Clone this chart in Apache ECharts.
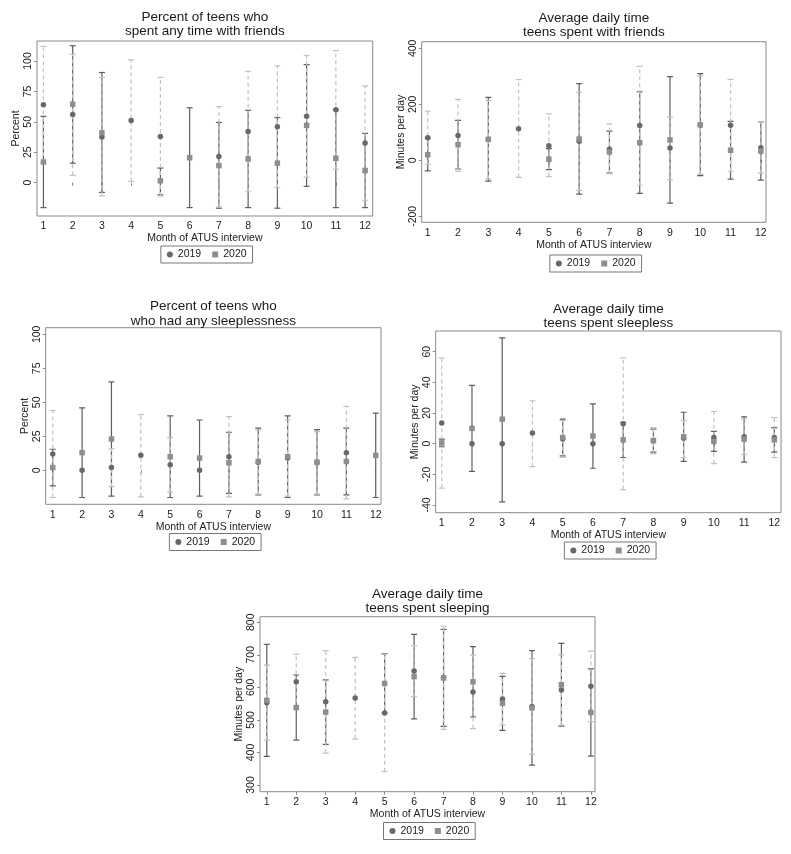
<!DOCTYPE html>
<html><head><meta charset="utf-8">
<script src="https://cdn.jsdelivr.net/npm/echarts@6/dist/echarts.min.js"></script>
<style>html,body{margin:0;padding:0;background:#fff}#c{width:791px;height:854px}</style>
</head><body><div id="c"></div>
<script>
// ---------- DATA ----------
const months = [1,2,3,4,5,6,7,8,9,10,11,12];
const seriesNames = ['2019','2020'];

const titles = [
  ['Percent of teens who','spent any time with friends'],
  ['Average daily time','teens spent with friends'],
  ['Percent of teens who','who had any sleeplessness'],
  ['Average daily time','teens spent sleepless'],
  ['Average daily time','teens spent sleeping']
];
const yAxisTitles = ['Percent','Minutes per day','Percent','Minutes per day','Minutes per day'];
const xAxisTitle = 'Month of ATUS interview';

const pctTicks = [0,25,50,75,100];
const friendsMinTicks = [-200,0,200,400];
const sleeplessMinTicks = [-40,-20,0,20,40,60];
const sleepMinTicks = [300,400,500,600,700,800];

// Panel 1: percent with friends
const friendsPct2019 = [64, 56, 37.5, 51, 38, null, 21.5, 42, 46, 54.5, 60, 32.5];
const friendsPct2019Lo = [16, 6, -11, 1, -11, null, -20, -7.5, -4, 4.5, 11, -14.5];
const friendsPct2019Hi = [112, 105.5, 86.5, 101, 86.5, null, 62.5, 91.5, 96, 104.5, 108.5, 79.5];
const friendsPct2020 = [17, 64.5, 41, null, 1.5, 20.5, 14, 19.5, 16, 47, 20, 10];
const friendsPct2020Lo = [-20.5, 16, -8, null, -10, -20.5, -21, -20.5, -21, -3, -20.5, -20.5];
const friendsPct2020Hi = [54.5, 112.5, 90.5, null, 12, 61.5, 49.5, 59.5, 53.5, 97, 60, 40.5];

// Panel 2: minutes with friends
const friendsMin2019 = [81, 89, 74, 113, 52, 68, 40, 124, 44, 126, 125, 45];
const friendsMin2019Lo = [-14, -40, -66, -61, -58, -107, -48, -89, -69, -50, -39, -46];
const friendsMin2019Hi = [176, 218, 214, 288, 166, 243, 130, 336, 155, 301, 289, 136];
const friendsMin2020 = [20, 56, 75, null, 4, 76, 30, 63, 73, 127, 36, 33];
const friendsMin2020Lo = [-38, -31, -74, null, -33, -121, -46, -118, -153, -55, -67, -71];
const friendsMin2020Hi = [79, 143, 225, null, 42, 274, 104, 245, 299, 310, 139, 137];

// Panel 3: percent with sleeplessness
const sleeplessPct2019 = [12, 0, 2, 11, 4, 0, 10, 6, 9, 5.5, 13, null];
const sleeplessPct2019Lo = [-20, null, -12, -19.5, -16, null, -19.5, -17.5, -19, -17.5, -21, null];
const sleeplessPct2019Hi = [44, null, 16, 41, 24, null, 39.5, 29.5, 37, 28.5, 47, null];
const sleeplessPct2020 = [2, 13, 23, null, 10, 9, 5.5, 6.5, 10, 6, 6.5, 11];
const sleeplessPct2020Lo = [-11.5, -20, -19, null, -20, -19, -17, -18, -20, -18, -18, -20];
const sleeplessPct2020Hi = [15.5, 46, 65, null, 40, 37, 28, 31, 40, 30, 31, 42];

// Panel 4: minutes sleepless
const sleeplessMin2019 = [13.5, 0, 0, 7, 3, 0, 13, 2, 3.5, 4, 4.5, 4];
const sleeplessMin2019Lo = [-29, null, null, -15, -9, null, -30, -6.5, -9, -13, -7, -9];
const sleeplessMin2019Hi = [56, null, null, 28, 15, null, 56, 10.5, 15, 21, 16, 17];
const sleeplessMin2020 = [0.5, 10, 16, null, 4, 5, 2.5, 2, 4.5, 1.5, 3, 2.5];
const sleeplessMin2020Lo = [-2, -18, -38, null, -8, -16, -9, -5.5, -11.5, -5, -12, -5.5];
const sleeplessMin2020Hi = [3, 38, 69, null, 16, 26, 14, 9.5, 20.5, 8, 17.5, 10.5];

// Panel 5: minutes sleeping
const sleepMin2019 = [553, 617, 556, 567, 521, 650, 630, 586, 564, 541, 592, 603];
const sleepMin2019Lo = [438, 532, 398, 441, 341, 572, 471, 473, 485, 394, 484, 495];
const sleepMin2019Hi = [668, 702, 713, 692, 701, 728, 787, 699, 643, 688, 700, 711];
const sleepMin2020 = [560, 538, 524, null, 612, 633, 629, 617, 551, 537, 608, 523];
const sleepMin2020Lo = [388, 438, 425, null, 521, 503, 480, 509, 468, 361, 481, 389];
const sleepMin2020Hi = [732, 638, 623, null, 703, 763, 778, 725, 634, 713, 735, 657];

const panelData = [
  {ticks: pctTicks, m19: friendsPct2019, lo19: friendsPct2019Lo, hi19: friendsPct2019Hi, m20: friendsPct2020, lo20: friendsPct2020Lo, hi20: friendsPct2020Hi},
  {ticks: friendsMinTicks, m19: friendsMin2019, lo19: friendsMin2019Lo, hi19: friendsMin2019Hi, m20: friendsMin2020, lo20: friendsMin2020Lo, hi20: friendsMin2020Hi},
  {ticks: pctTicks, m19: sleeplessPct2019, lo19: sleeplessPct2019Lo, hi19: sleeplessPct2019Hi, m20: sleeplessPct2020, lo20: sleeplessPct2020Lo, hi20: sleeplessPct2020Hi},
  {ticks: sleeplessMinTicks, m19: sleeplessMin2019, lo19: sleeplessMin2019Lo, hi19: sleeplessMin2019Hi, m20: sleeplessMin2020, lo20: sleeplessMin2020Lo, hi20: sleeplessMin2020Hi},
  {ticks: sleepMinTicks, m19: sleepMin2019, lo19: sleepMin2019Lo, hi19: sleepMin2019Hi, m20: sleepMin2020, lo20: sleepMin2020Lo, hi20: sleepMin2020Hi}
];

// ---------- LAYOUT / STYLE ----------
const layouts = [
  {left:37,    top:41,    width:335.7, height:175,   xMin:0.78, xMax:12.26, yMin:-27.4, yMax:116.4, titleY:17.3,  legendMid:255},
  {left:421.7, top:41.7,  width:344.3, height:180.6, xMin:0.8,  xMax:12.17, yMin:-221.4,yMax:423.8, titleY:18.3,  legendMid:264},
  {left:45.7,  top:327.7, width:335.3, height:176.6, xMin:0.76, xMax:12.18, yMin:-25,   yMax:104.9, titleY:306.7, legendMid:542.5},
  {left:435.7, top:331,   width:345.3, height:181.7, xMin:0.8,  xMax:12.22, yMin:-45,   yMax:73.5,  titleY:309,   legendMid:551},
  {left:260,   top:616.7, width:335,   height:175,   xMin:0.77, xMax:12.14, yMin:279.5, yMax:817,   titleY:594.3, legendMid:831.5}
];
const FONT = '"Liberation Sans", Arial, Helvetica, sans-serif';
const C19 = '#686868', C20 = '#8e8e8e';
const CI19 = '#c2c2c2', CI20 = '#5e5e5e';
const FRAME = '#8a8a8a';

function ciData(lo, hi) {
  const out = [];
  months.forEach((m, i) => { if (lo[i] != null && hi[i] != null) out.push([m, lo[i], hi[i]]); });
  return out;
}
function ptData(v) {
  const out = [];
  months.forEach((m, i) => { if (v[i] != null) out.push([m, v[i]]); });
  return out;
}
function ciRender(color, dashed, width) {
  return function (params, api) {
    const x = api.value(0), lo = api.value(1), hi = api.value(2);
    const a = api.coord([x, lo]), b = api.coord([x, hi]);
    const cap = 3;
    const capStyle = {stroke: color, lineWidth: width};
    return {
      type: 'group',
      children: [
        {type: 'line', shape: {x1: a[0], y1: a[1], x2: b[0], y2: b[1]},
         style: {stroke: color, lineWidth: width, lineDash: dashed ? [4, 3] : null}},
        {type: 'line', shape: {x1: a[0] - cap, y1: a[1], x2: a[0] + cap, y2: a[1]}, style: capStyle},
        {type: 'line', shape: {x1: b[0] - cap, y1: b[1], x2: b[0] + cap, y2: b[1]}, style: capStyle}
      ]
    };
  };
}

const grid = [], xAxis = [], yAxis = [], series = [], legend = [], graphic = [];
layouts.forEach((L, i) => {
  const D = panelData[i];
  const cx = L.left + L.width / 2;
  grid.push({left: L.left, top: L.top, width: L.width, height: L.height, show: true,
    borderColor: FRAME, borderWidth: 1, backgroundColor: '#fff', containLabel: false});
  xAxis.push({
    type: 'value', gridIndex: i, min: L.xMin, max: L.xMax,
    name: xAxisTitle, nameLocation: 'middle', nameGap: 15,
    nameTextStyle: {fontFamily: FONT, fontSize: 10.5, color: '#222'},
    axisLine: {show: false}, splitLine: {show: false},
    axisTick: {show: true, length: 3, customValues: months, lineStyle: {color: FRAME}},
    axisLabel: {customValues: months, margin: 5, fontFamily: FONT, fontSize: 10.5, color: '#222'}
  });
  yAxis.push({
    type: 'value', gridIndex: i, min: L.yMin, max: L.yMax,
    name: yAxisTitles[i], nameLocation: 'middle', nameGap: 15, nameRotate: 90,
    nameTextStyle: {fontFamily: FONT, fontSize: 10.5, color: '#222'},
    axisLine: {show: false}, splitLine: {show: false},
    axisTick: {show: true, length: 3, customValues: D.ticks, lineStyle: {color: FRAME}},
    axisLabel: {customValues: D.ticks, rotate: 90, margin: 3, fontFamily: FONT, fontSize: 10.5, color: '#222'}
  });
  series.push({
    type: 'custom', name: 'CI 2020', xAxisIndex: i, yAxisIndex: i, z: 2, clip: true,
    renderItem: ciRender(CI20, false, 1.2), encode: {x: 0, y: [1, 2]},
    data: ciData(D.lo20, D.hi20), silent: true
  });
  series.push({
    type: 'custom', name: 'CI 2019', xAxisIndex: i, yAxisIndex: i, z: 3, clip: true,
    renderItem: ciRender(CI19, true, 1.2), encode: {x: 0, y: [1, 2]},
    data: ciData(D.lo19, D.hi19), silent: true
  });
  series.push({
    type: 'scatter', name: seriesNames[0], xAxisIndex: i, yAxisIndex: i, z: 4,
    symbol: 'circle', symbolSize: 5.5, itemStyle: {color: C19, opacity: 1},
    data: ptData(D.m19)
  });
  series.push({
    type: 'scatter', name: seriesNames[1], xAxisIndex: i, yAxisIndex: i, z: 5,
    symbol: 'rect', symbolSize: 5.5, itemStyle: {color: C20, opacity: 1},
    data: ptData(D.m20)
  });
  legend.push({
    left: cx - 44, top: L.legendMid - 9, orient: 'horizontal',
    data: [{name: seriesNames[0], icon: 'circle'}, {name: seriesNames[1], icon: 'rect'}],
    itemWidth: 6, itemHeight: 6, itemGap: 11, padding: [3, 6],
    borderColor: '#777', borderWidth: 1, backgroundColor: '#fff',
    textStyle: {fontFamily: FONT, fontSize: 10.5, color: '#222'}
  });
  titles[i].forEach((t, k) => {
    graphic.push({type: 'text', x: cx, y: L.titleY + k * 14.4,
      style: {text: t, fill: '#1a1a1a', font: '13.5px ' + FONT, textAlign: 'center', textVerticalAlign: 'middle'}});
  });
});

const chart = echarts.init(document.getElementById('c'), null, {renderer: 'canvas', width: 791, height: 854});
chart.setOption({
  animation: false,
  backgroundColor: '#fff',
  grid, xAxis, yAxis, series, legend, graphic
});
</script></body></html>
